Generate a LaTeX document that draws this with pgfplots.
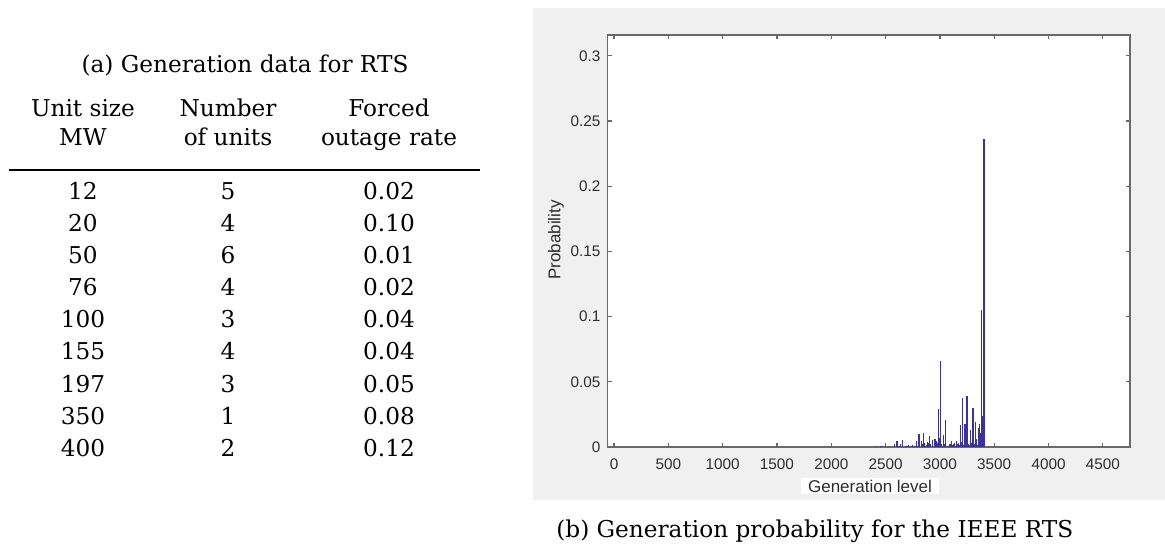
\documentclass[border=0pt]{standalone}
\usepackage{fontspec}
\setmainfont{DejaVu Serif}
\newfontfamily\sansf{Liberation Sans}
\usepackage{pgfplots}
\pgfplotsset{compat=1.18}
\definecolor{panel}{RGB}{240,240,240}
\definecolor{axgray}{RGB}{105,105,105}
\definecolor{txtgray}{RGB}{45,45,45}
\definecolor{barblue}{RGB}{60,50,155}
\pgfplotstableread{
x y
2408 0.000694
2450 0.000733
2458 0.000885
2500 0.000934
2585 0.001954
2605 0.004396
2611 0.000536
2633 0.000754
2635 0.002492
2653 0.001697
2655 0.005606
2688 0.000565
2695 0.000672
2703 0.000541
2708 0.001273
2730 0.000597
2732 0.000831
2750 0.001343
2768 0.000754
2774 0.000877
2788 0.004524
2796 0.001039
2800 0.000651
2808 0.01018
2810 0.000796
2830 0.004776
2838 0.002539
2850 0.010746
2858 0.003246
2865 0.000597
2880 0.001523
2885 0.003582
2900 0.003426
2905 0.008059
2909 0.002339
2929 0.005263
2935 0.002879
2953 0.001265
2955 0.006477
2959 0.000746
2965 0.004776
2973 0.002924
2979 0.001678
2985 0.029208
2991 0.000873
2993 0.006579
3005 0.06572
3011 0.001964
3015 0.001523
3023 0.000932
3033 0.002765
3035 0.009136
3041 0.000635
3043 0.002098
3053 0.006221
3055 0.020557
3075 0.001095
3088 0.002074
3095 0.002463
3108 0.004666
3112 0.001354
3130 0.002189
3132 0.003047
3138 0.001005
3150 0.004925
3154 0.00143
3158 0.002262
3168 0.002765
3174 0.003216
3176 0.001693
3180 0.001061
3185 0.000547
3188 0.016589
3196 0.003809
3200 0.002388
3205 0.001231
3208 0.037325
3209 0.001072
3210 0.002919
3218 0.001787
3229 0.002412
3230 0.017511
3235 0.000796
3238 0.00402
3250 0.0394
3253 0.000591
3255 0.001791
3259 0.00052
3265 0.002189
3273 0.00134
3279 0.001169
3285 0.013133
3289 0.00143
3293 0.003015
3297 0.000875
3305 0.02991
3309 0.008577
3315 0.001061
3317 0.001969
3323 0.00065
3329 0.0193
3335 0.006368
3343 0.001462
3345 0.001297
3353 0.001787
3355 0.01433
3361 0.000438
3365 0.01751
3373 0.01072
3381 0.000985
3385 0.10506
3393 0.02412
3405 0.2364
}\probdata
\begin{document}
\begin{tikzpicture}[x=0.5pt,y=0.5pt]
\path[use as bounding box] (0,0) rectangle (1165,546);
\fill[panel] (533,538) rectangle (1165,46);
\def\tf{\fontsize{11.6pt}{14pt}\selectfont}
% table (a)
\node[anchor=base, font=\tf, inner sep=0pt] at (245,473) {(a) Generation data for RTS};
\node[anchor=base, font=\tf, inner sep=0pt] at (83,429) {Unit size};
\node[anchor=base, font=\tf, inner sep=0pt] at (228,429) {Number};
\node[anchor=base, font=\tf, inner sep=0pt] at (389,429) {Forced};
\node[anchor=base, font=\tf, inner sep=0pt] at (83,400) {MW};
\node[anchor=base, font=\tf, inner sep=0pt] at (228,400) {of units};
\node[anchor=base, font=\tf, inner sep=0pt] at (389,400) {outage rate};
\draw[line width=0.6pt] (9,376) -- (480,376);
\foreach \a/\b/\c [count=\k from 0] in {12/5/0.02, 20/4/0.10, 50/6/0.01, 76/4/0.02, 100/3/0.04, 155/4/0.04, 197/3/0.05, 350/1/0.08, 400/2/0.12}{
  \node[anchor=base, font=\tf, inner sep=0pt] at (83,346-32*\k) {\a};
  \node[anchor=base, font=\tf, inner sep=0pt] at (228,346-32*\k) {\b};
  \node[anchor=base, font=\tf, inner sep=0pt] at (389,346-32*\k) {\c};
}
% plot (b)
\begin{axis}[at={(303.75pt,49.5pt)}, anchor=south west, scale only axis,
  width=261.25pt, height=206pt,
  xmin=-60, xmax=4750, ymin=0, ymax=0.316,
  xtick={0,500,1000,1500,2000,2500,3000,3500,4000,4500},
  xticklabels={0,500,1000,1500,2000,2500,3000,3500,4000,4500},
  ytick={0,0.05,0.1,0.15,0.2,0.25,0.3},
  yticklabels={0,0.05,0.1,0.15,0.2,0.25,0.3},
  scaled ticks=false, tick align=inside, xtick pos=both, ytick pos=both,
  major tick length=2.2pt,
  axis line style={axgray, line width=0.7pt},
  tick style={axgray, line width=0.6pt},
  tick label style={font=\sansf\fontsize{7.65pt}{9pt}\selectfont, text=txtgray},
  xticklabel style={yshift=-2.5pt},
  axis background/.style={fill=white}]
\addplot[ycomb, color=barblue, line width=0.6pt, mark=none] table[x=x,y=y] {\probdata};
\end{axis}
\node[rotate=90, font=\sansf\fontsize{8.5pt}{10pt}\selectfont, text=txtgray] at (556,306) {Probability};
\node[fill=white, inner xsep=3.5pt, inner ysep=0.8pt, font=\sansf\fontsize{8.5pt}{10pt}\selectfont, text=txtgray] at (870,60) {Generation level};
\node[anchor=base west, font=\tf, inner sep=0pt] at (556,9) {(b) Generation probability for the IEEE RTS};
\end{tikzpicture}
\end{document}
